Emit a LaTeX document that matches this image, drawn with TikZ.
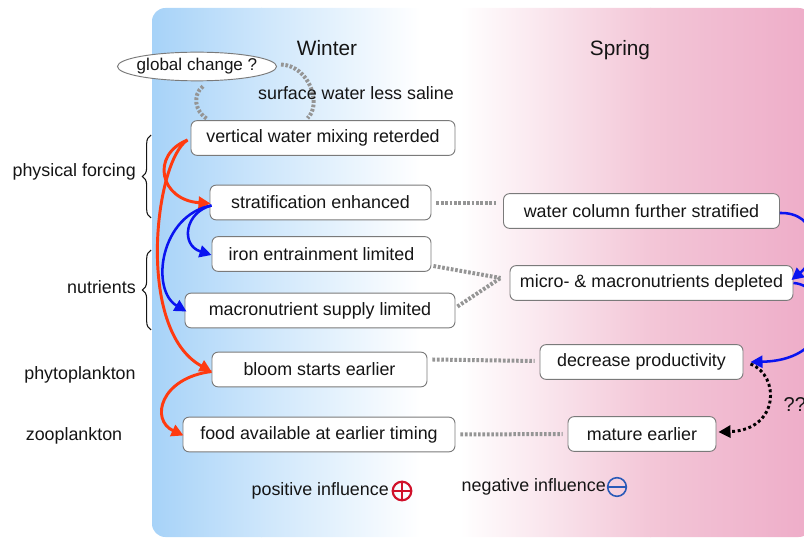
\documentclass[tikz,border=0pt]{standalone}
\usepackage{fontspec}
\setmainfont{Liberation Sans}
\usetikzlibrary{arrows.meta,shapes.geometric,decorations.pathreplacing,calc}
\definecolor{bgblue}{HTML}{A6D2F8}
\definecolor{bgblue2}{HTML}{CDE6FB}
\definecolor{bgpink}{HTML}{F3C6D7}
\definecolor{bgpink2}{HTML}{EEACC8}
\definecolor{boxline}{HTML}{7A7A7A}
\definecolor{dotgray}{HTML}{959595}
\definecolor{redarr}{HTML}{FF3A10}
\definecolor{bluearr}{HTML}{0A14F0}
\definecolor{txt}{HTML}{151515}
\definecolor{plusred}{HTML}{D0102A}
\definecolor{minusblue}{HTML}{2A5AB8}
\begin{document}
\begin{tikzpicture}[x=0.75pt,y=-0.75pt,
  every node/.style={font=\fontsize{13.4}{16}\selectfont, text=txt},
  box/.style={draw=boxline, line width=0.7pt, fill=white, rounded corners=4.5pt,
    minimum height=26pt, inner sep=0pt},
  redarrow/.style={draw=redarr, line width=2.2pt, -{Triangle[length=9pt,width=9pt]}},
  bluearrow/.style={draw=bluearr, line width=1.9pt, -{Triangle[length=9pt,width=9pt]}},
  graydot/.style={draw=dotgray, line width=3pt, dash pattern=on 2pt off 1.3pt},
  blackdot/.style={draw=black, line width=2.2pt, dash pattern=on 2.2pt off 2pt,
    -{Triangle[length=9pt,width=9pt]}},
  bracestyle/.style={draw=txt, line width=0.8pt, decorate, decoration={brace, amplitude=6.5pt}},
  title/.style={font=\fontsize{15.6}{18}\selectfont},
  signnode/.style={circle, minimum size=14pt, inner sep=0pt}
]
\useasboundingbox (0,0) rectangle (804,538);
\clip (0,0) rectangle (804,538);

% background
\begin{scope}
\clip[rounded corners=10pt] (152,8) rectangle (812,537);
\shade[left color=bgblue, right color=bgblue2] (150,0) rectangle (262,540);
\shade[left color=bgblue2, right color=white] (261,0) rectangle (420,540);
\fill[white] (419,0) rectangle (461,540);
\shade[left color=white, right color=bgpink] (460,0) rectangle (651,540);
\shade[left color=bgpink, right color=bgpink2] (650,0) rectangle (815,540);
\end{scope}

% titles
\node[title] (winter) at (327,48) {Winter};
\node[title] (spring) at (620,50) {Spring};

% winter boxes
\node[box, minimum width=198pt] (vert) at (323,138) {vertical water mixing reterded};
\node[box, minimum width=165.75pt] (strat) at (320.5,202.5) {stratification enhanced};
\node[box, minimum width=164.25pt] (iron) at (321.5,254) {iron entrainment limited};
\node[box, minimum width=202.5pt] (macro) at (320,310.5) {macronutrient supply limited};
\node[box, minimum width=161.25pt] (bloom) at (319.5,369.5) {bloom starts earlier};
\node[box, minimum width=204pt] (food) at (319,434.5) {food available at earlier timing};

% spring boxes
\node[box, minimum width=207pt] (water) at (641.5,211) {water column further stratified};
\node[box, minimum width=212.25pt] (micro) at (651.5,283) {micro- \& macronutrients depleted};
\node[box, minimum width=152.25pt] (decrease) at (641.5,362) {decrease productivity};
\node[box, minimum width=111pt] (mature) at (642,434) {mature earlier};

% global change
\node[ellipse, draw=boxline, line width=0.7pt, fill=white, inner xsep=-3pt, inner ysep=0pt,
  minimum height=21.5pt, font=\fontsize{12.8}{15}\selectfont] (gc) at (197,66.5) {global change ?};
\draw[graydot] ($(gc.south)+(6,5)$) .. controls (192,95) and (195,112) .. ($(vert.north west)+(17,-1)$);
\draw[graydot] ($(gc.east)+(4,-2)$) .. controls (310,66) and (322,105) .. ($(vert.north west)+(117,-2)$);
\node (saline) at (356,93) {surface water less saline};

% left labels and braces
\node[anchor=east, inner sep=0pt] (phys) at (136,172) {physical forcing};
\node[anchor=east, inner sep=0pt] (nutr) at (136,287) {nutrients};
\node (phyto) at (80,375) {phytoplankton};
\node (zoo) at (74,436) {zooplankton};
\draw[bracestyle] (151,218) -- (151,135);
\draw[bracestyle] (151,330) -- (151,250);

% gray dotted links
\draw[graydot] ($(strat.east)+(5,1)$) -- ($(strat.east -| water.west)+(-5,1)$);
\coordinate (mj) at ($(micro.west)+(-9,-5)$);
\draw[graydot] ($(iron.east)+(2,12)$) -- (mj);
\draw[graydot] ($(macro.east)+(2,-4)$) -- (mj);
\draw[graydot] ($(bloom.east)+(5,-10)$) -- ($(decrease.west)+(-5,-1)$);
\draw[graydot] ($(food.east)+(5,0)$) -- ($(mature.west)+(-5,0)$);

% red arrows
\draw[redarrow] ($(vert.west)+(-3,2)$) .. controls (150,155) and (160,200) .. ($(strat.west)+(1,1)$);
\draw[redarrow] ($(vert.west)+(-3,2)$) .. controls (155,160) and (135,330) .. ($(bloom.west)+(0,2)$);
\draw[redarrow] ($(bloom.west)+(0,2)$) .. controls (160,378) and (150,420) .. ($(food.west)+(1,1)$);

% blue arrows
\draw[bluearrow] ($(strat.west)+(2,3)$) .. controls (185,212) and (180,245) .. ($(iron.west)+(0,1)$);
\draw[bluearrow] ($(strat.west)+(2,3)$) .. controls (160,215) and (150,290) .. ($(macro.west)+(2,1)$);
\draw[bluearrow] ($(water.east)+(0,2)$) .. controls (818,212) and (822,255) .. ($(micro.east)+(-2,-3)$);
\draw[bluearrow] ($(micro.east)+(0,0)$) .. controls (830,285) and (840,360) .. ($(decrease.east)+(7,0)$);

% black dotted arrow
\draw[blackdot] ($(decrease.east)+(7,2)$) .. controls (780,375) and (780,430) .. ($(mature.east)+(2,-2)$);
\node[anchor=west, font=\fontsize{15}{18}\selectfont] (qq) at (779,405) {??};

% legend
\node[anchor=east, inner sep=0pt] (pos) at (389,491) {positive influence};
\node[signnode, draw=plusred, line width=1.6pt] (plus) at (402,491) {};
\draw[plusred, line width=1.6pt] (plus.north) -- (plus.south) (plus.west) -- (plus.east);
\node[anchor=east, inner sep=0pt] (neg) at (606,487) {negative influence};
\node[signnode, draw=minusblue, line width=1.2pt] (minus) at (617,487) {};
\draw[minusblue, line width=1.2pt] (minus.west) -- (minus.east);
\end{tikzpicture}
\end{document}
